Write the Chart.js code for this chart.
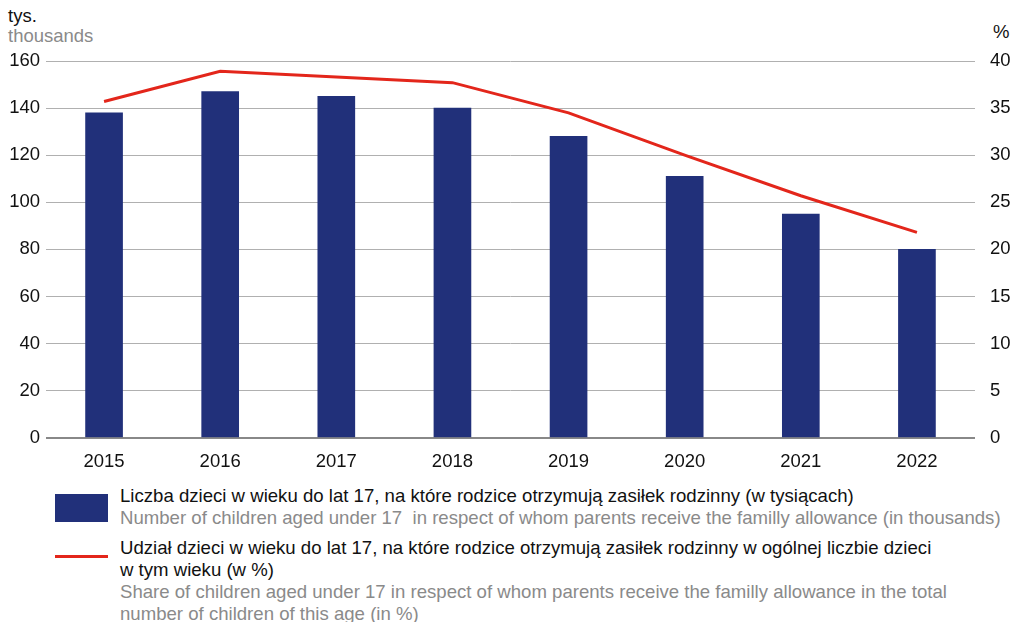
<!DOCTYPE html>
<html>
<head>
<meta charset="utf-8">
<script src="https://cdn.jsdelivr.net/npm/chart.js@4/dist/chart.umd.min.js"></script>
<style>
  body { margin: 0; background: #fff; font-family: "Liberation Sans", Arial, sans-serif; }
  #wrap { position: relative; width: 1020px; height: 622px; }
  #box { position: absolute; left: 0; top: 0; width: 1020px; height: 478px; }
  .unit { position: absolute; font-size: 18.5px; line-height: 20px; }
  .pl { color: #111; }
  .en { color: #8a8a8a; }
  .leg { position: absolute; left: 120px; font-size: 18.6px; line-height: 22px; white-space: nowrap; }
</style>
</head>
<body>
<div id="wrap">
  <div class="unit" style="left:8px; top:6px;"><div class="pl">tys.</div><div class="en">thousands</div></div>
  <div class="unit pl" style="left:993px; top:22px;">%</div>
  <div id="box"><canvas id="chart"></canvas></div>

  <div style="position:absolute; left:55px; top:494px; width:53px; height:28px; background:#21307a;"></div>
  <div class="leg" style="top:485px;">
    <div class="pl">Liczba dzieci w wieku do lat 17, na które rodzice otrzymują zasiłek rodzinny (w tysiącach)</div>
    <div class="en">Number of children aged under 17&nbsp; in respect of whom parents receive the familly allowance (in thousands)</div>
  </div>

  <div style="position:absolute; left:55px; top:555px; width:53px; height:3px; background:#e3261b;"></div>
  <div class="leg" style="top:537px;">
    <div class="pl">Udział dzieci w wieku do lat 17, na które rodzice otrzymują zasiłek rodzinny w ogólnej liczbie dzieci<br>w tym wieku (w %)</div>
    <div class="en">Share of children aged under 17 in respect of whom parents receive the familly allowance in the total<br>number of children of this age (in %)</div>
  </div>
</div>
<script>
var years = ['2015', '2016', '2017', '2018', '2019', '2020', '2021', '2022'];
var childrenThousands = [138, 147, 145, 140, 128, 111, 95, 80];
var sharePercent = [35.7, 38.9, 38.3, 37.7, 34.5, 30.0, 25.7, 21.8];

var tickFont = { family: '"Liberation Sans", Arial, sans-serif', size: 18.5 };

new Chart(document.getElementById('chart').getContext('2d'), {
  data: {
    labels: years,
    datasets: [{
      type: 'line',
      label: 'Udział',
      data: sharePercent,
      yAxisID: 'y1',
      borderColor: '#e3261b',
      borderWidth: 3,
      pointRadius: 0,
      tension: 0,
      order: 0
    }, {
      type: 'bar',
      label: 'Liczba',
      data: childrenThousands,
      yAxisID: 'y',
      backgroundColor: '#21307a',
      barThickness: 37,
      order: 1
    }]
  },
  options: {
    responsive: true,
    maintainAspectRatio: false,
    animation: false,
    layout: { padding: { top: 61, left: 0, right: 0, bottom: 0 } },
    plugins: { legend: { display: false }, tooltip: { enabled: false } },
    scales: {
      x: {
        grid: { display: false },
        border: { display: false },
        ticks: { color: '#111', font: tickFont, padding: 5 }
      },
      y: {
        position: 'left',
        min: 0, max: 160,
        afterFit: function (axis) { axis.width = 46; },
        ticks: { stepSize: 20, color: '#111', font: tickFont, padding: 6 },
        grid: {
          color: function (c) { return c.tick.value === 0 ? '#888' : '#b0b0b0'; },
          lineWidth: function (c) { return c.tick.value === 0 ? 2 : 1; },
          drawTicks: false
        },
        border: { display: false }
      },
      y1: {
        position: 'right',
        min: 0, max: 40,
        afterFit: function (axis) { axis.width = 45; },
        ticks: { stepSize: 5, color: '#111', font: tickFont, padding: 15 },
        grid: { display: false, drawTicks: false },
        border: { display: false }
      }
    }
  }
});
</script>
</body>
</html>
